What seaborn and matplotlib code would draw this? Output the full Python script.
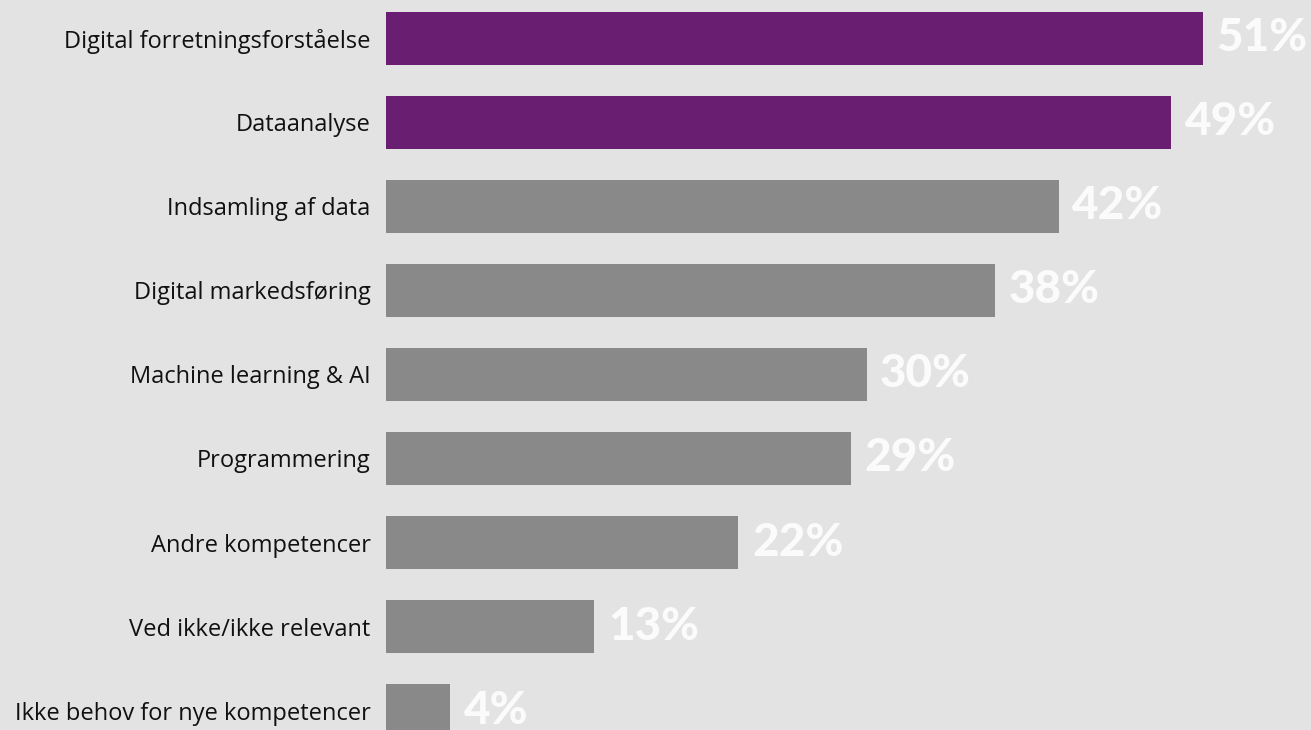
import matplotlib
matplotlib.use("Agg")
import matplotlib.pyplot as plt
import seaborn as sns
import pandas as pd

categories = [
    "Digital forretningsforståelse",
    "Dataanalyse",
    "Indsamling af data",
    "Digital markedsføring",
    "Machine learning & AI",
    "Programmering",
    "Andre kompetencer",
    "Ved ikke/ikke relevant",
    "Ikke behov for nye kompetencer",
]
values = [51, 49, 42, 38, 30, 29, 22, 13, 4]
highlight = [True, True, False, False, False, False, False, False, False]

PURPLE = "#6a1e72"
GREY = "#898989"
BG = "#e3e3e3"

df = pd.DataFrame({"kompetence": categories, "andel": values})
palette = [PURPLE if h else GREY for h in highlight]

sns.set_theme(style="white")
plt.rcParams["font.family"] = ["Open Sans", "DejaVu Sans"]

fig = plt.figure(figsize=(13.11, 7.30), dpi=100, facecolor=BG)
ax = fig.add_axes([386 / 1311, 0, (1311 - 386) / 1311, 1])
ax.set_facecolor(BG)

sns.barplot(data=df, x="andel", y="kompetence", hue="kompetence",
            palette=palette, legend=False, width=0.63, saturation=1,
            linewidth=0, edgecolor="none", ax=ax)

ax.set_xlim(0, 925 / 16.02)
ax.set_ylim(8.232, -0.458)
for s in ax.spines.values():
    s.set_visible(False)
ax.set_xticks([])
ax.set_xlabel("")
ax.set_ylabel("")
ax.tick_params(axis="y", length=0, pad=11, labelsize=17, labelcolor="#111111")

for i, v in enumerate(values):
    ax.text(v + 0.85, i, f"{v}%", va="center", ha="left",
            fontsize=33, fontweight="black", family=["Lato", "DejaVu Sans"],
            color="#fbfbfb")

fig.savefig("out.png", dpi=100, facecolor=BG)
